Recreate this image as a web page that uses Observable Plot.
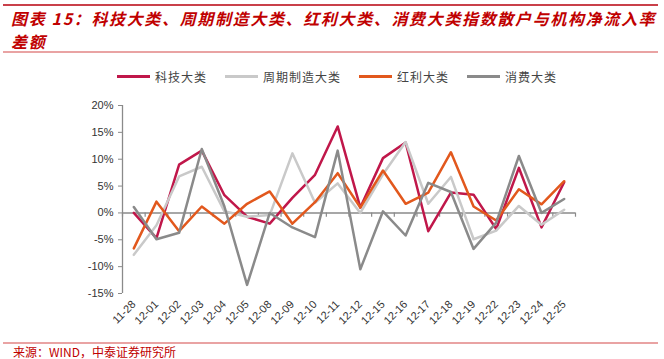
<!DOCTYPE html>
<html><head><meta charset="utf-8">
<script src="https://cdn.jsdelivr.net/npm/d3@7"></script>
<script src="https://cdn.jsdelivr.net/npm/@observablehq/plot@0.6"></script>
<style>
body{margin:0;width:664px;height:359px;background:#fff;position:relative;overflow:hidden;font-family:"Noto Sans CJK SC",sans-serif;}
#topline{position:absolute;left:3px;width:655px;top:4px;height:2px;background:#c9404a;}
#title{position:absolute;left:11px;top:7px;width:652px;color:#c00000;font-weight:bold;font-style:italic;font-size:16px;line-height:23px;letter-spacing:1.65px;white-space:nowrap;}
#sep{position:absolute;left:3px;width:655px;top:51px;height:2px;background:#e9a3a3;}
#legend{position:absolute;top:66px;left:117px;display:flex;align-items:center;font-size:12px;letter-spacing:1px;color:#444;height:20px;}
#legend .item{display:flex;align-items:center;margin-right:18px;}
#legend .sw{width:33px;height:3px;margin-right:5px;}
#chart{position:absolute;left:0;top:90px;}
#capline{position:absolute;left:3px;width:655px;top:342px;height:2px;background:#e9a3a3;}
#caption{position:absolute;left:13px;top:344px;font-size:12px;line-height:16px;color:#c00000;}
</style></head>
<body>
<div id="topline"></div>
<div id="title">图表 15：科技大类、周期制造大类、红利大类、消费大类指数散户与机构净流入率<br>差额</div>
<div id="sep"></div>
<div id="legend"></div>
<div id="chart"></div>
<div id="capline"></div>
<div id="caption">来源：WIND，中泰证券研究所</div>
<script>
const categories = ["11-28","12-01","12-02","12-03","12-04","12-05","12-08","12-09","12-10","12-11","12-12","12-15","12-16","12-17","12-18","12-19","12-22","12-23","12-24","12-25"];
const tech      = [0, -4.7, 9.0, 11.6, 3.3, -0.7, -2.0, 2.8, 7.1, 16.1, 1.0, 10.2, 13.1, -3.4, 3.8, 3.4, -3.0, 8.4, -2.7, 5.7];
const cyclical  = [-7.8, -2.3, 6.8, 8.6, 0.3, -0.7, -0.4, 11.1, 1.9, 5.5, 0.0, 7.2, 13.2, 1.7, 6.7, -4.9, -3.3, 1.3, -2.2, 0.6];
const dividend  = [-6.6, 2.1, -3.4, 1.2, -2.0, 1.7, 4.0, -2.0, 2.0, 7.4, 1.0, 7.9, 1.7, 3.8, 11.3, 1.2, -1.4, 4.4, 1.6, 5.9];
const consumer  = [1.1, -4.9, -3.7, 11.9, 1.2, -13.4, 0.0, -2.7, -4.5, 11.6, -10.5, 0.3, -4.2, 5.6, 3.9, -6.7, -1.8, 10.6, 0.0, 2.6];
const seriesNames = ["科技大类","周期制造大类","红利大类","消费大类"];
const seriesColors = ["#c0174a","#c9c9c9","#e2581d","#8a8a8a"];
const yTicks = [-15,-10,-5,0,5,10,15,20];

const seriesValues = [tech, cyclical, dividend, consumer];
const data = seriesNames.flatMap((name, s) => seriesValues[s].map((v, i) => ({series: name, i, date: categories[i], value: v})));
const boundaries = d3.range(-0.5, categories.length, 1);

// legend
const legend = document.getElementById("legend");
seriesNames.forEach((n, k) => {
  const it = document.createElement("div"); it.className = "item";
  const sw = document.createElement("div"); sw.className = "sw"; sw.style.background = seriesColors[k];
  const tx = document.createElement("span"); tx.textContent = n;
  it.appendChild(sw); it.appendChild(tx); legend.appendChild(it);
});

const chart = Plot.plot({
  width: 664, height: 250,
  marginTop: 15, marginBottom: 47, marginLeft: 122, marginRight: 89,
  x: {type: "linear", domain: [-0.5, categories.length - 0.5]},
  y: {domain: [-15, 20]},
  color: {domain: seriesNames, range: seriesColors},
  style: {fontFamily: "'Liberation Sans', Arial, sans-serif", fontSize: "11px", color: "#333", background: "transparent"},
  marks: [
    Plot.ruleX([-0.5], {stroke: "#8a8a8a", strokeWidth: 1.3}),
    Plot.axisY({ticks: yTicks, tickFormat: d => d + "%", tickSize: 4, tickPadding: 5, stroke: "#8a8a8a", label: null}),
    Plot.ruleY([0], {stroke: "#8a8a8a", strokeWidth: 1.6}),
    Plot.ruleX(boundaries, {y1: 0, y2: -0.8, stroke: "#8a8a8a", strokeWidth: 1.2}),
    Plot.axisX({ticks: d3.range(categories.length), tickFormat: i => categories[i], tickRotate: -45, tickSize: 0, tickPadding: 9, label: null}),
    Plot.line(data, {x: "i", y: "value", z: "series", stroke: "series", strokeWidth: 2.5})
  ]
});
document.getElementById("chart").appendChild(chart);
</script>
</body></html>
